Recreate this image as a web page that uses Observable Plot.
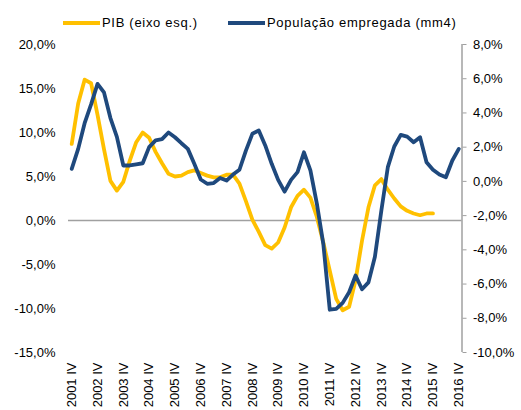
<!DOCTYPE html>
<html>
<head>
<meta charset="utf-8">
<script src="https://cdn.jsdelivr.net/npm/d3@7"></script>
<script src="https://cdn.jsdelivr.net/npm/@observablehq/plot@0.6"></script>
<style>
  html, body { margin: 0; padding: 0; background: #fff; }
  #wrap { position: relative; width: 521px; height: 410px; font-family: "Liberation Sans", Arial, sans-serif; }
  .leg { position: absolute; top: 0; left: 0; width: 521px; height: 40px; font-size: 13px; letter-spacing: 0.7px; color: #000; }
  .sw { position: absolute; height: 4px; top: 21px; }
  .lt { position: absolute; top: 15px; line-height: 15px; white-space: nowrap; }
</style>
</head>
<body>
<div id="wrap">
  <div class="leg">
    <div class="sw" style="left:63px;width:37px;background:#FFC000"></div>
    <div class="lt" style="left:102px">PIB (eixo esq.)</div>
    <div class="sw" style="left:228px;width:37px;background:#1F497D"></div>
    <div class="lt" style="left:267px">População empregada (mm4)</div>
  </div>
</div>
<script>
// Quarterly series, 2001 IV .. 2016 IV (index 0 = 2001 IV)
const firstYear = 2001;
const pib = [
  8.7, 13.3, 16.0, 15.6, 12.0, 8.1, 4.5, 3.4, 4.4, 6.8,
  8.9, 10.0, 9.4, 7.8, 6.5, 5.3, 5.0, 5.1, 5.5, 5.7,
  5.4, 5.1, 4.9, 4.9, 5.2, 5.2, 4.2, 2.2, 0.1, -1.3,
  -2.8, -3.2, -2.5, -0.8, 1.5, 2.8, 3.5, 2.6, 0.4, -2.5,
  -5.7, -8.9, -10.2, -9.8, -6.8, -2.3, 1.5, 4.0, 4.7, 3.5,
  2.5, 1.6, 1.1, 0.8, 0.6, 0.8, 0.8
];
const populacao = [
  0.73, 1.9, 3.4, 4.5, 5.7, 5.2, 3.7, 2.6, 0.93, 0.93,
  1.0, 1.06, 2.0, 2.4, 2.47, 2.86, 2.58, 2.23, 1.9, 1.03,
  0.11, -0.14, -0.1, 0.2, 0.05, 0.4, 0.68, 1.8, 2.78, 2.97,
  2.1, 1.03, 0.09, -0.6, 0.09, 0.54, 1.7, 0.64, -1.3, -3.65,
  -7.5, -7.45, -7.1, -6.48, -5.5, -6.3, -5.9, -4.4, -1.7, 0.83,
  2.04, 2.72, 2.62, 2.29, 2.58, 1.12, 0.68, 0.4, 0.24, 1.22,
  1.9
];
const leftTicks = [-15, -10, -5, 0, 5, 10, 15, 20];
const rightTicks = [-10, -8, -6, -4, -2, 0, 2, 4, 6, 8];
const xTickIdx = d3.range(0, 61, 4);

const L0 = -15, L1 = 20, R0 = -10, R1 = 8;
const toLeft = v => L0 + (v - R0) * (L1 - L0) / (R1 - R0);
const fromLeft = v => R0 + (v - L0) * (R1 - R0) / (L1 - L0);
const fmt = v => { let r = Math.round(v * 10) / 10; if (Object.is(r, -0)) r = 0; return r.toFixed(1).replace(".", ",") + "%"; };

const pibData = pib.map((v, i) => ({i, v}));
const popData = populacao.map((v, i) => ({i, v: toLeft(v)}));

const YEL = "#FFC000", BLUE = "#1F497D", GRAY = "#A0A0A0";

const chart = Plot.plot({
  width: 521,
  height: 410,
  marginTop: 44,
  marginBottom: 58,
  marginLeft: 68,
  marginRight: 59.5,
  style: {fontFamily: "'Liberation Sans', Arial, sans-serif", fontSize: "13px", color: "#000", background: "transparent"},
  x: {domain: [-0.5, 60.5], label: null},
  y: {domain: [L0, L1], label: null},
  marks: [
    Plot.ruleY([0], {stroke: GRAY, strokeWidth: 1.5}),
    Plot.ruleX([60.5], {y1: L0, y2: L1, stroke: GRAY, strokeWidth: 1.5}),
    Plot.lineY(pibData, {x: "i", y: "v", stroke: YEL, strokeWidth: 3.8, strokeLinejoin: "round", strokeLinecap: "round"}),
    Plot.lineY(popData, {x: "i", y: "v", stroke: BLUE, strokeWidth: 3.8, strokeLinejoin: "round", strokeLinecap: "round"}),
    Plot.axisY(leftTicks, {anchor: "left", label: null, tickSize: 0, tickPadding: 13, tickFormat: fmt, fill: "#000", style: {letterSpacing: "0.5px"}}),
    Plot.axisY(rightTicks.map(toLeft), {anchor: "right", label: null, tickSize: 4, tickPadding: 7, stroke: GRAY, tickFormat: d => fmt(fromLeft(d)), fill: "#000", style: {letterSpacing: "0.7px"}}),
    Plot.axisX(xTickIdx, {anchor: "bottom", label: null, tickSize: 0, tickPadding: 10, tickRotate: -90, tickFormat: i => (firstYear + i / 4) + " IV", fill: "#000"})
  ]
});
document.getElementById("wrap").appendChild(chart);
chart.style.position = "absolute";
chart.style.left = "0";
chart.style.top = "0";
</script>
</body>
</html>
